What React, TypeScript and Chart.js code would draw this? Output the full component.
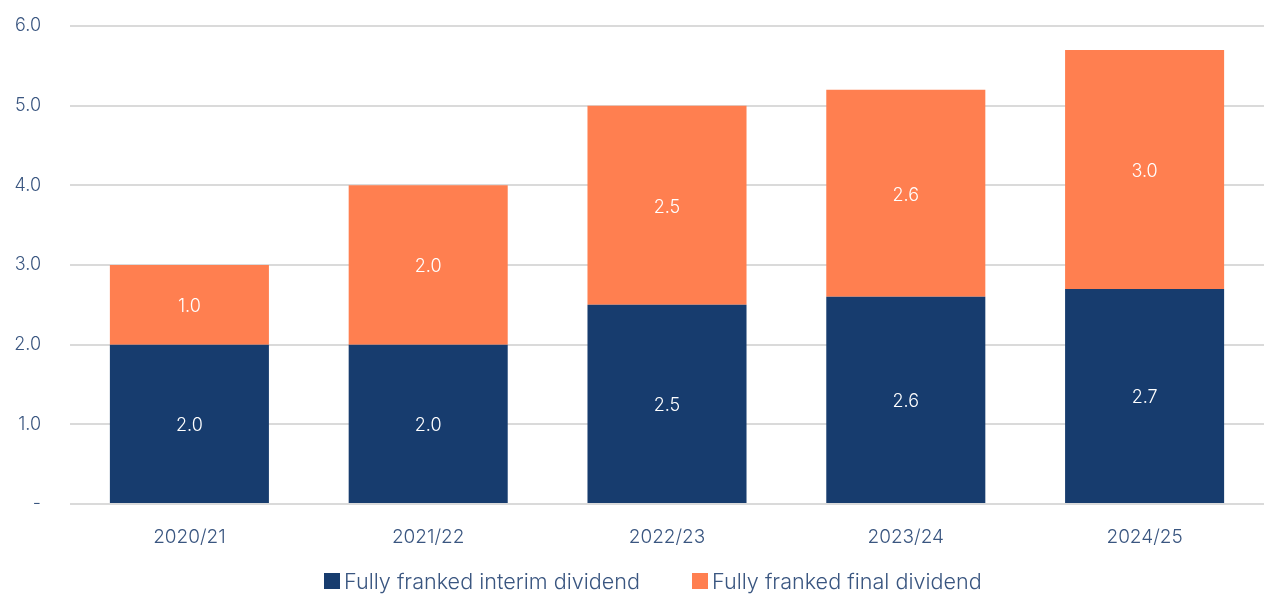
import React, { useEffect, useRef } from "react";
import { Chart, registerables } from "chart.js";

Chart.register(...registerables);

const categories = ["2020/21", "2021/22", "2022/23", "2023/24", "2024/25"];
const interimValues = [2.0, 2.0, 2.5, 2.6, 2.7];
const finalValues = [1.0, 2.0, 2.5, 2.6, 3.0];
const seriesNames = ["Fully franked interim dividend", "Fully franked final dividend"];
const seriesColors = ["#173c6e", "#ff7f50"];
const yTicks = [0, 1, 2, 3, 4, 5, 6];

const FONT = "Inter, 'Noto Sans', sans-serif";
const TEXT = "#3a5680";

const barLabels = {
  id: "barLabels",
  afterDatasetsDraw(chart: any) {
    const ctx = chart.ctx;
    ctx.save();
    ctx.fillStyle = "#ffffff";
    ctx.font = `300 18px ${FONT}`;
    ctx.textAlign = "center";
    ctx.textBaseline = "middle";
    chart.data.datasets.forEach((ds: any, i: number) => {
      const meta = chart.getDatasetMeta(i);
      meta.data.forEach((bar: any, j: number) => {
        const p = bar.getProps(["x", "y", "base"], true);
        ctx.fillText(ds.data[j].toFixed(1), p.x, (p.y + p.base) / 2 + 2);
      });
    });
    ctx.restore();
  },
};

export default function App() {
  const ref = useRef<HTMLCanvasElement>(null);
  useEffect(() => {
    document.body.style.margin = "0";
    const chart = new Chart(ref.current!, {
      type: "bar",
      data: {
        labels: categories,
        datasets: [
          { label: seriesNames[0], data: interimValues, backgroundColor: seriesColors[0] },
          { label: seriesNames[1], data: finalValues, backgroundColor: seriesColors[1] },
        ],
      },
      options: {
        animation: false,
        responsive: false,
        maintainAspectRatio: false,
        layout: { padding: { top: 26, right: 0, left: 0, bottom: 0 } },
        plugins: { legend: { display: false }, tooltip: { enabled: false } },
        datasets: { bar: { categoryPercentage: 1, barPercentage: 0.666 } },
        scales: {
          x: {
            stacked: true,
            grid: { display: false },
            border: { display: false },
            ticks: { color: TEXT, font: { family: FONT, size: 19, weight: 300 }, padding: 14 },
            afterFit: (s: any) => { s.height = 90; s.paddingLeft = 0; s.paddingRight = 0; },
          },
          y: {
            stacked: true,
            min: 0,
            max: 6,
            afterBuildTicks: (s: any) => { s.ticks = yTicks.map((v) => ({ value: v })); },
            grid: { color: "#dadada", lineWidth: 2, drawTicks: false },
            border: { display: false },
            ticks: {
              color: TEXT,
              font: { family: FONT, size: 18, weight: 300 },
              padding: 29,
              callback: (v: any) => (Number(v) === 0 ? "-" : Number(v).toFixed(1)),
            },
            afterFit: (s: any) => { s.width = 70; s.paddingTop = 0; s.paddingBottom = 0; },
          },
        },
      },
      plugins: [barLabels],
    });
    return () => chart.destroy();
  }, []);
  return (
    <div style={{ position: "relative", width: 1264, height: 594 }}>
      <canvas ref={ref} width={1264} height={594} style={{ display: "block" }} />
      <div
        style={{
          position: "absolute",
          top: 568,
          left: 324,
          display: "flex",
          gap: 52,
          fontFamily: FONT,
          fontSize: 21.6,
          fontWeight: 300,
          color: TEXT,
          lineHeight: "26px",
          whiteSpace: "nowrap",
        }}
      >
        {seriesNames.map((n, i) => (
          <div key={n} style={{ display: "flex", alignItems: "center" }}>
            <span style={{ width: 16, height: 16, background: seriesColors[i], marginRight: 4 }} />
            <span>{n}</span>
          </div>
        ))}
      </div>
    </div>
  );
}
